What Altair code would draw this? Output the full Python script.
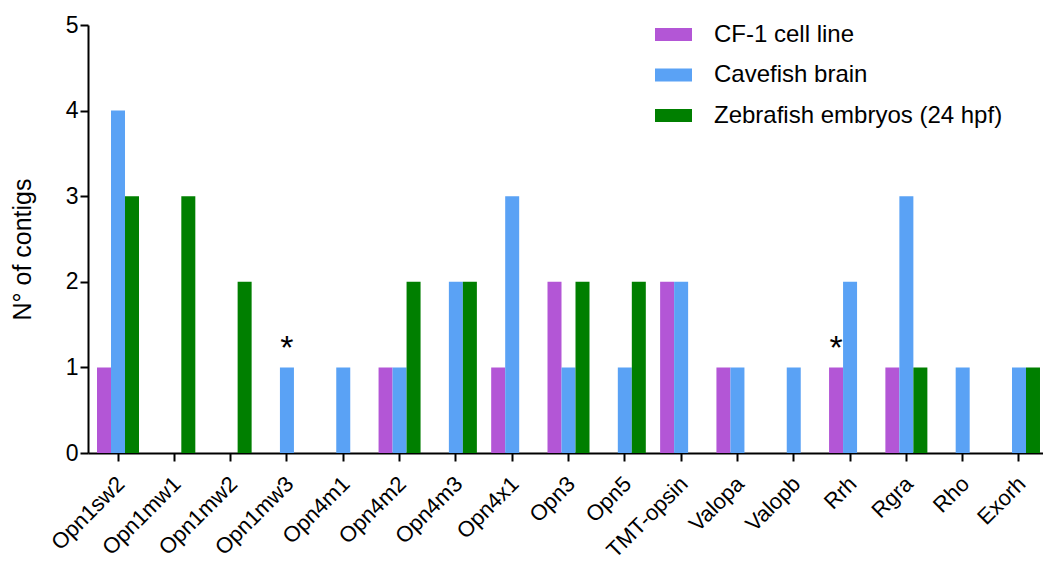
import altair as alt
import pandas as pd

genes = ["Opn1sw2", "Opn1mw1", "Opn1mw2", "Opn1mw3", "Opn4m1", "Opn4m2", "Opn4m3",
         "Opn4x1", "Opn3", "Opn5", "TMT-opsin", "Valopa", "Valopb", "Rrh", "Rgra",
         "Rho", "Exorh"]
series = ["CF-1 cell line", "Cavefish brain", "Zebrafish embryos (24 hpf)"]
cf1 = [1, 0, 0, 0, 0, 1, 0, 1, 2, 0, 2, 1, 0, 1, 1, 0, 0]
cave = [4, 0, 0, 1, 1, 1, 2, 3, 1, 1, 2, 1, 1, 2, 3, 1, 1]
zebra = [3, 3, 2, 0, 0, 2, 2, 0, 2, 2, 0, 0, 0, 0, 1, 0, 1]
colors = ["#B356D6", "#5AA2F5", "#007F00"]

star_genes = ["Opn1mw3", "Rrh"]
star_series = ["Cavefish brain", "CF-1 cell line"]
star_values = [1, 1]

rows = []
for s, vals in zip(series, [cf1, cave, zebra]):
    for g, v in zip(genes, vals):
        if v > 0:
            rows.append({"gene": g, "series": s, "value": v})
df = pd.DataFrame(rows)
stars = pd.DataFrame({"gene": star_genes, "series": star_series, "value": star_values})

FONT = "Liberation Sans"

x_enc = alt.X(
    "gene:N", sort=genes,
    scale=alt.Scale(domain=genes, paddingInner=0.2541, paddingOuter=0.1066, align=0.75),
    axis=alt.Axis(title=None, labelAngle=-45, labelAlign="right", labelBaseline="middle",
                  labelFontSize=22, labelFont=FONT, labelColor="black", labelPadding=19,
                  labelOffset=3, labelLimit=400, labelOverlap=False, domainColor="black",
                  domainWidth=2, tickColor="black", tickWidth=2, tickSize=8,
                  bandPosition=0.5, grid=False),
)
xo_enc = alt.XOffset("series:N", sort=series,
                     scale=alt.Scale(domain=series, paddingInner=0, paddingOuter=0))

bars = alt.Chart(df).mark_bar().encode(
    x=x_enc,
    xOffset=xo_enc,
    y=alt.Y("value:Q", scale=alt.Scale(domain=[0, 5], nice=False),
            axis=alt.Axis(values=[0, 1, 2, 3, 4, 5], format="d", title="N° of contigs",
                          grid=False, domainColor="black", domainWidth=2, tickColor="black",
                          tickWidth=2, tickSize=8, labelFontSize=23, labelFont=FONT,
                          labelColor="black", labelPadding=2, titleFontSize=25,
                          titleFont=FONT, titleFontWeight="normal", titleColor="black",
                          titleX=-53, titleY=224, titleBaseline="bottom",
                          titleAlign="center", titleAngle=-90)),
    color=alt.Color("series:N", sort=series,
                    scale=alt.Scale(domain=series, range=colors),
                    legend=alt.Legend(title=None, orient="none", legendX=567, legendY=-9,
                                      symbolType="M-1,-0.35L1,-0.35L1,0.35L-1,0.35Z",
                                      symbolSize=1369, symbolStrokeWidth=0,
                                      symbolOpacity=1, labelFontSize=24, labelFont=FONT,
                                      labelColor="black", labelOffset=22, rowPadding=9.5,
                                      labelLimit=400)),
)

star_layer = alt.Chart(stars).mark_text(
    text="*", fontSize=34, font=FONT, color="black", baseline="alphabetic", dy=-8
).encode(
    x=alt.X("gene:N", sort=genes),
    xOffset=alt.XOffset("series:N", sort=series),
    y=alt.Y("value:Q"),
)

chart = alt.layer(bars, star_layer).properties(
    width=955, height=428, autosize="none", background="white",
    padding={"left": 80, "top": 17, "right": 0, "bottom": 108},
).configure_view(stroke=None).configure_axis(grid=False)

chart.save("out.html", embed_options={"renderer": "svg", "actions": False})
